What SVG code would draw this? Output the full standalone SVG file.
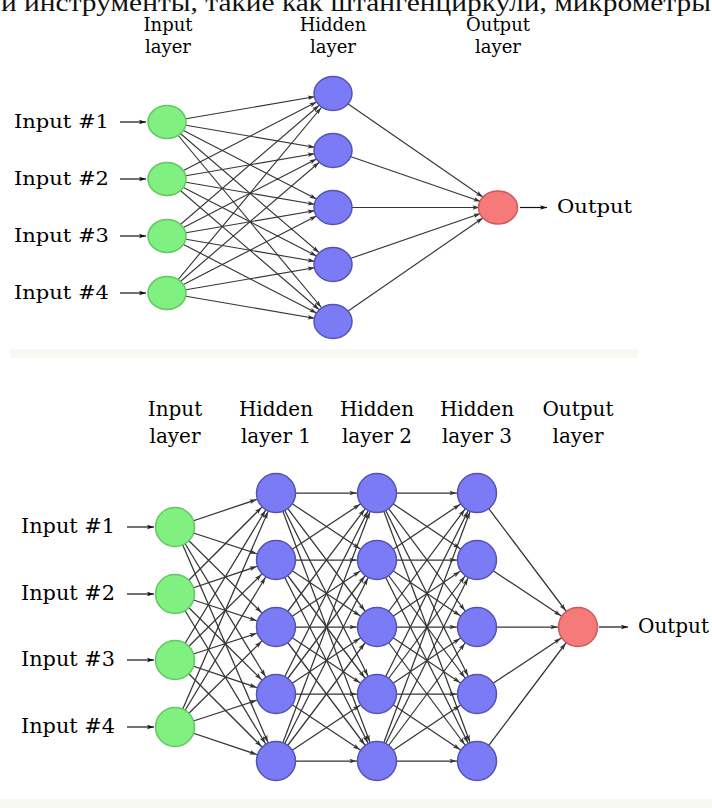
<svg xmlns="http://www.w3.org/2000/svg" width="712" height="808" viewBox="0 0 712 808">
<defs>
<style>
.bg{fill:#ffffff}
.band{fill:#f8f8f3}
.g{fill:#80f080;stroke:#62c862;stroke-width:1.5}
.b{fill:#7b7bf5;stroke:#5353b8;stroke-width:1.5}
.r{fill:#f77a7a;stroke:#cc5a5a;stroke-width:1.5}
.t{font-family:"DejaVu Serif","Liberation Serif",serif;fill:#000}
.ts{font-size:18px}
.tb{font-size:20px}
.ru{font-family:"Liberation Serif","Times New Roman",serif;font-size:25px;fill:#111}
.c{stroke:#353535;stroke-width:1.15;fill:none;marker-end:url(#ahT)}
.d{stroke:#353535;stroke-width:1.25;fill:none;marker-end:url(#ahB)}
.a{stroke:#111;stroke-width:1.2;fill:none;marker-end:url(#ahL)}
</style>
<marker id="ahT" markerUnits="userSpaceOnUse" markerWidth="8" markerHeight="6" refX="25.5" refY="3" orient="auto" overflow="visible"><path d="M0,0.7 L7,3 L0,5.3 L1.6,3 z" fill="#333"/></marker>
<marker id="ahB" markerUnits="userSpaceOnUse" markerWidth="8" markerHeight="6" refX="27.5" refY="3" orient="auto" overflow="visible"><path d="M0,0.7 L7,3 L0,5.3 L1.6,3 z" fill="#333"/></marker>
<marker id="ahL" markerUnits="userSpaceOnUse" markerWidth="8" markerHeight="6" refX="7" refY="3" orient="auto" overflow="visible"><path d="M0,0.7 L7,3 L0,5.3 L1.6,3 z" fill="#111"/></marker>
</defs>
<rect class="bg" x="0" y="0" width="712" height="808"/>
<rect class="band" x="10" y="349" width="628" height="9"/>
<rect class="band" x="0" y="799" width="712" height="9"/>
<text class="ru" x="1" y="11" textLength="710" lengthAdjust="spacingAndGlyphs">и инструменты, такие как штангенциркули, микрометры</text>

<g id="labels-top" class="t ts" text-anchor="middle">
<text x="168" y="31">Input</text><text x="168" y="53">layer</text>
<text x="333" y="31">Hidden</text><text x="333" y="53">layer</text>
<text x="498" y="31">Output</text><text x="498" y="53">layer</text>
</g>
<g id="inputs-top" class="t ts">
<text x="14" y="128" textLength="95" lengthAdjust="spacingAndGlyphs">Input #1</text>
<text x="14" y="185" textLength="95" lengthAdjust="spacingAndGlyphs">Input #2</text>
<text x="14" y="242" textLength="95" lengthAdjust="spacingAndGlyphs">Input #3</text>
<text x="14" y="299" textLength="95" lengthAdjust="spacingAndGlyphs">Input #4</text>
<text x="557" y="213" textLength="75" lengthAdjust="spacingAndGlyphs">Output</text>
</g>

<g id="labels-bottom" class="t tb" text-anchor="middle">
<text x="175" y="416">Input</text><text x="175" y="443">layer</text>
<text x="276" y="416">Hidden</text><text x="276" y="443">layer 1</text>
<text x="377" y="416">Hidden</text><text x="377" y="443">layer 2</text>
<text x="477" y="416">Hidden</text><text x="477" y="443">layer 3</text>
<text x="578" y="416">Output</text><text x="578" y="443">layer</text>
</g>
<g id="inputs-bottom" class="t tb">
<text x="21" y="533" textLength="94" lengthAdjust="spacingAndGlyphs">Input #1</text>
<text x="21" y="600" textLength="94" lengthAdjust="spacingAndGlyphs">Input #2</text>
<text x="21" y="666" textLength="94" lengthAdjust="spacingAndGlyphs">Input #3</text>
<text x="21" y="733" textLength="94" lengthAdjust="spacingAndGlyphs">Input #4</text>
<text x="638" y="633">Output</text>
</g>

<g id="connectors">
<line class="a" x1="120" y1="122" x2="146" y2="122"/>
<line class="a" x1="120" y1="179" x2="146" y2="179"/>
<line class="a" x1="120" y1="236" x2="146" y2="236"/>
<line class="a" x1="120" y1="293" x2="146" y2="293"/>
<line class="a" x1="520" y1="207.5" x2="547" y2="207.5"/>
<line class="c" x1="167" y1="122" x2="333" y2="93.5"/><line class="c" x1="167" y1="122" x2="333" y2="150.5"/><line class="c" x1="167" y1="122" x2="333" y2="207.5"/><line class="c" x1="167" y1="122" x2="333" y2="264.5"/><line class="c" x1="167" y1="122" x2="333" y2="321.5"/>
<line class="c" x1="167" y1="179" x2="333" y2="93.5"/><line class="c" x1="167" y1="179" x2="333" y2="150.5"/><line class="c" x1="167" y1="179" x2="333" y2="207.5"/><line class="c" x1="167" y1="179" x2="333" y2="264.5"/><line class="c" x1="167" y1="179" x2="333" y2="321.5"/>
<line class="c" x1="167" y1="236" x2="333" y2="93.5"/><line class="c" x1="167" y1="236" x2="333" y2="150.5"/><line class="c" x1="167" y1="236" x2="333" y2="207.5"/><line class="c" x1="167" y1="236" x2="333" y2="264.5"/><line class="c" x1="167" y1="236" x2="333" y2="321.5"/>
<line class="c" x1="167" y1="293" x2="333" y2="93.5"/><line class="c" x1="167" y1="293" x2="333" y2="150.5"/><line class="c" x1="167" y1="293" x2="333" y2="207.5"/><line class="c" x1="167" y1="293" x2="333" y2="264.5"/><line class="c" x1="167" y1="293" x2="333" y2="321.5"/>
<line class="c" x1="333" y1="93.5" x2="498" y2="207.5"/><line class="c" x1="333" y1="150.5" x2="498" y2="207.5"/><line class="c" x1="333" y1="207.5" x2="498" y2="207.5"/><line class="c" x1="333" y1="264.5" x2="498" y2="207.5"/><line class="c" x1="333" y1="321.5" x2="498" y2="207.5"/>

<line class="a" x1="127" y1="527" x2="154" y2="527"/>
<line class="a" x1="127" y1="594" x2="154" y2="594"/>
<line class="a" x1="127" y1="660" x2="154" y2="660"/>
<line class="a" x1="127" y1="727" x2="154" y2="727"/>
<line class="a" x1="599" y1="627" x2="628" y2="627"/>
<line class="d" x1="175" y1="527" x2="276" y2="493"/><line class="d" x1="175" y1="527" x2="276" y2="560"/><line class="d" x1="175" y1="527" x2="276" y2="627"/><line class="d" x1="175" y1="527" x2="276" y2="694"/><line class="d" x1="175" y1="527" x2="276" y2="761"/>
<line class="d" x1="175" y1="594" x2="276" y2="493"/><line class="d" x1="175" y1="594" x2="276" y2="560"/><line class="d" x1="175" y1="594" x2="276" y2="627"/><line class="d" x1="175" y1="594" x2="276" y2="694"/><line class="d" x1="175" y1="594" x2="276" y2="761"/>
<line class="d" x1="175" y1="660" x2="276" y2="493"/><line class="d" x1="175" y1="660" x2="276" y2="560"/><line class="d" x1="175" y1="660" x2="276" y2="627"/><line class="d" x1="175" y1="660" x2="276" y2="694"/><line class="d" x1="175" y1="660" x2="276" y2="761"/>
<line class="d" x1="175" y1="727" x2="276" y2="493"/><line class="d" x1="175" y1="727" x2="276" y2="560"/><line class="d" x1="175" y1="727" x2="276" y2="627"/><line class="d" x1="175" y1="727" x2="276" y2="694"/><line class="d" x1="175" y1="727" x2="276" y2="761"/>

<line class="d" x1="276" y1="493" x2="377" y2="493"/><line class="d" x1="276" y1="493" x2="377" y2="560"/><line class="d" x1="276" y1="493" x2="377" y2="627"/><line class="d" x1="276" y1="493" x2="377" y2="694"/><line class="d" x1="276" y1="493" x2="377" y2="761"/>
<line class="d" x1="276" y1="560" x2="377" y2="493"/><line class="d" x1="276" y1="560" x2="377" y2="560"/><line class="d" x1="276" y1="560" x2="377" y2="627"/><line class="d" x1="276" y1="560" x2="377" y2="694"/><line class="d" x1="276" y1="560" x2="377" y2="761"/>
<line class="d" x1="276" y1="627" x2="377" y2="493"/><line class="d" x1="276" y1="627" x2="377" y2="560"/><line class="d" x1="276" y1="627" x2="377" y2="627"/><line class="d" x1="276" y1="627" x2="377" y2="694"/><line class="d" x1="276" y1="627" x2="377" y2="761"/>
<line class="d" x1="276" y1="694" x2="377" y2="493"/><line class="d" x1="276" y1="694" x2="377" y2="560"/><line class="d" x1="276" y1="694" x2="377" y2="627"/><line class="d" x1="276" y1="694" x2="377" y2="694"/><line class="d" x1="276" y1="694" x2="377" y2="761"/>
<line class="d" x1="276" y1="761" x2="377" y2="493"/><line class="d" x1="276" y1="761" x2="377" y2="560"/><line class="d" x1="276" y1="761" x2="377" y2="627"/><line class="d" x1="276" y1="761" x2="377" y2="694"/><line class="d" x1="276" y1="761" x2="377" y2="761"/>

<line class="d" x1="377" y1="493" x2="477" y2="493"/><line class="d" x1="377" y1="493" x2="477" y2="560"/><line class="d" x1="377" y1="493" x2="477" y2="627"/><line class="d" x1="377" y1="493" x2="477" y2="694"/><line class="d" x1="377" y1="493" x2="477" y2="761"/>
<line class="d" x1="377" y1="560" x2="477" y2="493"/><line class="d" x1="377" y1="560" x2="477" y2="560"/><line class="d" x1="377" y1="560" x2="477" y2="627"/><line class="d" x1="377" y1="560" x2="477" y2="694"/><line class="d" x1="377" y1="560" x2="477" y2="761"/>
<line class="d" x1="377" y1="627" x2="477" y2="493"/><line class="d" x1="377" y1="627" x2="477" y2="560"/><line class="d" x1="377" y1="627" x2="477" y2="627"/><line class="d" x1="377" y1="627" x2="477" y2="694"/><line class="d" x1="377" y1="627" x2="477" y2="761"/>
<line class="d" x1="377" y1="694" x2="477" y2="493"/><line class="d" x1="377" y1="694" x2="477" y2="560"/><line class="d" x1="377" y1="694" x2="477" y2="627"/><line class="d" x1="377" y1="694" x2="477" y2="694"/><line class="d" x1="377" y1="694" x2="477" y2="761"/>
<line class="d" x1="377" y1="761" x2="477" y2="493"/><line class="d" x1="377" y1="761" x2="477" y2="560"/><line class="d" x1="377" y1="761" x2="477" y2="627"/><line class="d" x1="377" y1="761" x2="477" y2="694"/><line class="d" x1="377" y1="761" x2="477" y2="761"/>

<line class="d" x1="477" y1="493" x2="578" y2="627"/><line class="d" x1="477" y1="560" x2="578" y2="627"/><line class="d" x1="477" y1="627" x2="578" y2="627"/><line class="d" x1="477" y1="694" x2="578" y2="627"/><line class="d" x1="477" y1="761" x2="578" y2="627"/>
</g>

<g id="top-in1"><ellipse class="g" cx="167" cy="122" rx="19" ry="16.5"/></g>
<g id="top-in2"><ellipse class="g" cx="167" cy="179" rx="19" ry="16.5"/></g>
<g id="top-in3"><ellipse class="g" cx="167" cy="236" rx="19" ry="16.5"/></g>
<g id="top-in4"><ellipse class="g" cx="167" cy="293" rx="19" ry="16.5"/></g>
<g id="top-h1"><ellipse class="b" cx="333" cy="93.5" rx="19" ry="17"/></g>
<g id="top-h2"><ellipse class="b" cx="333" cy="150.5" rx="19" ry="17"/></g>
<g id="top-h3"><ellipse class="b" cx="333" cy="207.5" rx="19" ry="17"/></g>
<g id="top-h4"><ellipse class="b" cx="333" cy="264.5" rx="19" ry="17"/></g>
<g id="top-h5"><ellipse class="b" cx="333" cy="321.5" rx="19" ry="17"/></g>
<g id="top-out"><ellipse class="r" cx="498" cy="207.5" rx="19.5" ry="16.5"/></g>

<g id="bot-in1"><circle class="g" cx="175" cy="527" r="19.5"/></g>
<g id="bot-in2"><circle class="g" cx="175" cy="594" r="19.5"/></g>
<g id="bot-in3"><circle class="g" cx="175" cy="660" r="19.5"/></g>
<g id="bot-in4"><circle class="g" cx="175" cy="727" r="19.5"/></g>
<g id="bot-h1-1"><circle class="b" cx="276" cy="493" r="19.5"/></g>
<g id="bot-h1-2"><circle class="b" cx="276" cy="560" r="19.5"/></g>
<g id="bot-h1-3"><circle class="b" cx="276" cy="627" r="19.5"/></g>
<g id="bot-h1-4"><circle class="b" cx="276" cy="694" r="19.5"/></g>
<g id="bot-h1-5"><circle class="b" cx="276" cy="761" r="19.5"/></g>
<g id="bot-h2-1"><circle class="b" cx="377" cy="493" r="19.5"/></g>
<g id="bot-h2-2"><circle class="b" cx="377" cy="560" r="19.5"/></g>
<g id="bot-h2-3"><circle class="b" cx="377" cy="627" r="19.5"/></g>
<g id="bot-h2-4"><circle class="b" cx="377" cy="694" r="19.5"/></g>
<g id="bot-h2-5"><circle class="b" cx="377" cy="761" r="19.5"/></g>
<g id="bot-h3-1"><circle class="b" cx="477" cy="493" r="19.5"/></g>
<g id="bot-h3-2"><circle class="b" cx="477" cy="560" r="19.5"/></g>
<g id="bot-h3-3"><circle class="b" cx="477" cy="627" r="19.5"/></g>
<g id="bot-h3-4"><circle class="b" cx="477" cy="694" r="19.5"/></g>
<g id="bot-h3-5"><circle class="b" cx="477" cy="761" r="19.5"/></g>
<g id="bot-out"><circle class="r" cx="578" cy="627" r="19.5"/></g>
</svg>
